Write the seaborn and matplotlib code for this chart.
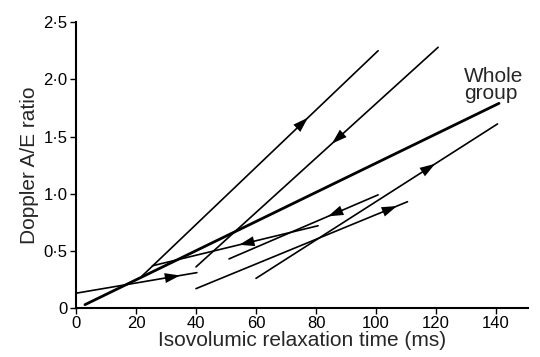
import numpy as np
import pandas as pd
import matplotlib
matplotlib.use("Agg")
import matplotlib.pyplot as plt
import seaborn as sns

# individual patient regression lines (start and end points)
patient = ["A", "B", "D", "E", "F", "G", "H"]
x_start = [22.0, 40.0, 0.0, 25.5, 51.0, 40.0, 60.0]
y_start = [0.28, 0.36, 0.13, 0.37, 0.43, 0.17, 0.26]
x_end = [100.7, 120.7, 40.3, 80.7, 100.7, 110.5, 140.5]
y_end = [2.25, 2.28, 0.31, 0.72, 0.99, 0.93, 1.61]
# arrow tip position (x) and direction (+1 towards end, -1 towards start)
arrow_x = [77.3, 85.3, 34.7, 54.4, 84.0, 107.0, 119.7]
arrow_dir = [1, -1, 1, -1, -1, 1, 1]

# whole group line
group_x = [3.0, 141.0]
group_y = [0.03, 1.79]

xticks = [0, 20, 40, 60, 80, 100, 120, 140]
yticks = [0, 0.5, 1.0, 1.5, 2.0, 2.5]
ytick_labels = ["0", "0·5", "1·0", "1·5", "2·0", "2·5"]

rows = []
for p, x0, y0, x1, y1 in zip(patient, x_start, y_start, x_end, y_end):
    rows.append({"patient": p, "irt": x0, "ratio": y0})
    rows.append({"patient": p, "irt": x1, "ratio": y1})
df = pd.DataFrame(rows)
grp = pd.DataFrame({"irt": group_x, "ratio": group_y})

sns.set_style("ticks")
plt.rcParams["font.family"] = ["Liberation Sans", "DejaVu Sans"]

fig = plt.figure(figsize=(5.4, 3.57), dpi=100)
ax = fig.add_axes([0.1407, 0.137, 0.8373, 0.801])

sns.lineplot(data=df, x="irt", y="ratio", units="patient", estimator=None,
             color="black", lw=1.2, ax=ax)
sns.lineplot(data=grp, x="irt", y="ratio", color="black", lw=2.0, ax=ax)

ax.set_xlim(0, 150.7)
ax.set_ylim(0, 2.5)
fig.canvas.draw()

for x0, y0, x1, y1, ax_, d in zip(x_start, y_start, x_end, y_end, arrow_x, arrow_dir):
    ay = np.interp(ax_, [x0, x1], [y0, y1])
    p0 = ax.transData.transform((x0, y0))
    p1 = ax.transData.transform((x1, y1))
    u = (p1 - p0) / np.hypot(*(p1 - p0)) * d
    off = -u * 12
    ax.annotate("", xy=(ax_, ay), xytext=(off[0], off[1]), textcoords="offset points",
                arrowprops=dict(arrowstyle="-|>,head_length=1.1,head_width=0.36",
                                color="black", lw=0, mutation_scale=10,
                                shrinkA=0, shrinkB=0))

ax.text(129.3, 2.11, "Whole\ngroup", fontsize=15, ha="left", va="top",
        linespacing=0.88)

ax.set_xticks(xticks)
ax.set_xticklabels([str(t) for t in xticks], fontsize=12)
ax.set_yticks(yticks)
ax.set_yticklabels(ytick_labels, fontsize=12)
ax.tick_params(direction="out", length=4, width=1, colors="black", pad=2)
ax.set_xlabel("Isovolumic relaxation time (ms)", fontsize=15, labelpad=0)
ax.set_ylabel("Doppler A/E ratio", fontsize=15, labelpad=3)
for s in ["top", "right"]:
    ax.spines[s].set_visible(False)
for s in ["left", "bottom"]:
    ax.spines[s].set_linewidth(1.5)
    ax.spines[s].set_color("black")

fig.savefig("out.png", dpi=100)
